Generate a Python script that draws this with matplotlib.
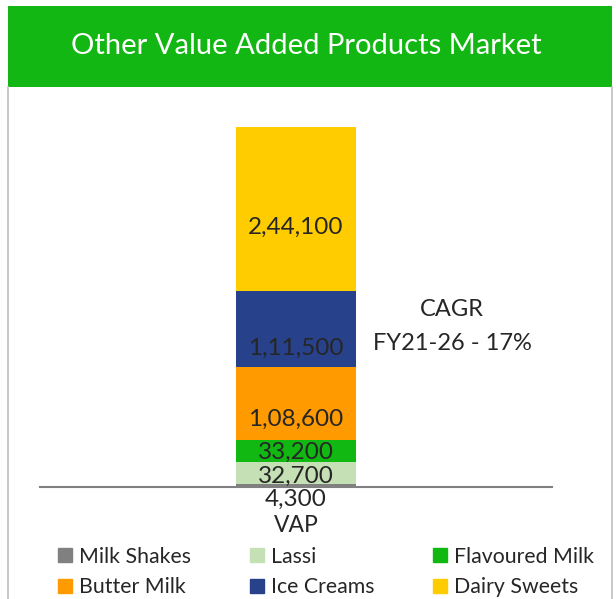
import matplotlib.pyplot as plt
from matplotlib.patches import Rectangle
import numpy as np

plt.rcParams['font.family'] = ['Lato', 'DejaVu Sans']

# data
category = "VAP"
segments = ["Milk Shakes", "Lassi", "Flavoured Milk", "Butter Milk", "Ice Creams", "Dairy Sweets"]
values = [4300, 32700, 33200, 108600, 111500, 244100]
value_labels = ["4,300", "32,700", "33,200", "1,08,600", "1,11,500", "2,44,100"]
colors = ["#808080", "#C5E0B4", "#12B812", "#FF9A00", "#27418A", "#FFCC00"]
# label nudges in points (Excel had these hand-placed)
label_nudge = [-10, -2, -1, -12, -14, -13]

W, H = 616, 599
fig = plt.figure(figsize=(W / 100, H / 100), dpi=100)
fig.patch.set_facecolor("white")

# header banner + frame
fig.patches.append(Rectangle((8 / W, 1 - 87 / H), 604 / W, 81 / H, transform=fig.transFigure,
                             facecolor="#13B713", edgecolor="none"))
fig.lines.append(plt.Line2D([8 / W, 8 / W], [0, 1 - 87 / H], transform=fig.transFigure, color="#BFBFBF", lw=1.2))
fig.lines.append(plt.Line2D([612 / W, 612 / W], [0, 1 - 87 / H], transform=fig.transFigure, color="#BFBFBF", lw=1.2))
fig.text(306 / W, 1 - 46 / H, "Other Value Added Products Market", color="white", fontsize=21,
         ha="center", va="center")

# plot area: baseline at y=487px, top of stack at y=127px
ax = fig.add_axes([40 / W, (H - 487) / H, 512 / W, 360 / H])
total = sum(values)
ax.set_ylim(0, total)
ax.set_xlim(-0.5, 0.5)
bw = 120 / 512

bottoms = np.concatenate([[0], np.cumsum(values)[:-1]])
for name, v, b, c in zip(segments, values, bottoms, colors):
    ax.bar(0, v, bottom=b, width=bw, color=c, label=name, edgecolor="none")

for v, b, lab, dy in zip(values, bottoms, value_labels, label_nudge):
    ax.annotate(lab, (0, b + v / 2), xytext=(0, dy), textcoords="offset points",
                ha="center", va="center", fontsize=17.5, color="#262626")

for s in ["top", "right", "left"]:
    ax.spines[s].set_visible(False)
ax.spines["bottom"].set_color("#808080")
ax.spines["bottom"].set_linewidth(1.5)
ax.set_yticks([])
ax.set_xticks([0])
ax.set_xticklabels([category], fontsize=16.5, color="#262626")
ax.tick_params(axis="x", length=0, pad=20)

fig.text(452 / W, 1 - 316 / H, "CAGR", fontsize=17, ha="center", va="baseline", color="#262626")
fig.text(452 / W, 1 - 350 / H, "FY21-26 - 17%", fontsize=17, ha="center", va="baseline", color="#262626")

# legend filled row by row like the original
order = [0, 3, 1, 4, 2, 5]
handles = [Rectangle((0, 0), 1, 1, color=colors[i]) for i in order]
fig.legend(handles, [segments[i] for i in order], loc="center", bbox_to_anchor=(326 / W, 1 - 572 / H),
           ncol=3, frameon=False, fontsize=15.3, handlelength=0.67, handleheight=0.67, handletextpad=0.34,
           columnspacing=2.75, labelspacing=0.5, labelcolor="#262626")

fig.savefig("out.png", dpi=100, facecolor="white")
